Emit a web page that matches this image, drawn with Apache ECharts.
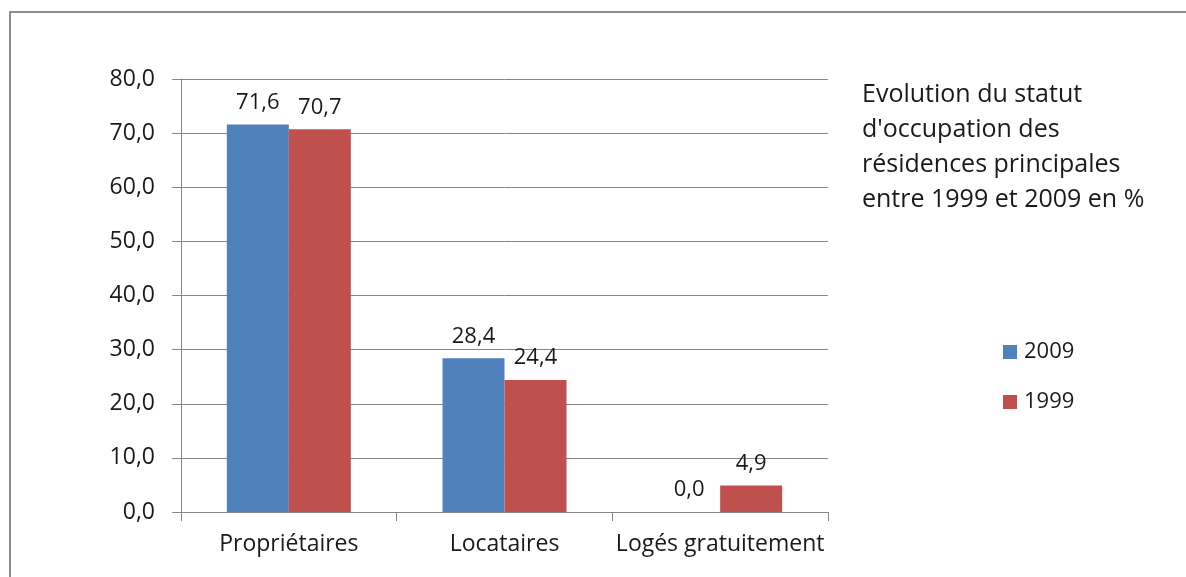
<!DOCTYPE html>
<html>
<head>
<meta charset="utf-8">
<script src="https://cdn.jsdelivr.net/npm/echarts@6/dist/echarts.min.js"></script>
<style>
html,body{margin:0;padding:0;background:#fff;}
#c{width:1186px;height:577px;}
</style>
</head>
<body>
<div id="c"></div>
<script>
const categories = ['Propriétaires', 'Locataires', 'Logés gratuitement'];
const seriesNames = ['2009', '1999'];
const values2009 = [71.6, 28.4, 0.0];
const values1999 = [70.7, 24.4, 4.9];
const titleText = "Evolution du statut\nd'occupation des\nrésidences principales\nentre 1999 et 2009 en %";

const FONT = 'Open Sans';
const fmt = v => Number(v).toFixed(1).replace('.', ',');

const chart = echarts.init(document.getElementById('c'));
chart.setOption({
  animation: false,
  backgroundColor: '#fff',
  textStyle: { fontFamily: FONT },
  title: {
    text: titleText,
    left: 862, top: 77, padding: 0,
    textStyle: { fontFamily: FONT, fontSize: 25, fontWeight: 'normal', color: '#1a1a1a', lineHeight: 35 }
  },
  legend: {
    orient: 'vertical',
    left: 1003, top: 339, padding: 0,
    itemWidth: 14, itemHeight: 14, itemGap: 24,
    icon: 'rect',
    textStyle: { fontFamily: FONT, fontSize: 22, color: '#1a1a1a', lineHeight: 26, padding: [0,0,0,2] },
    data: seriesNames
  },
  graphic: [{
    type: 'rect', silent: true,
    shape: { x: 10, y: 12, width: 1250, height: 650 },
    style: { fill: 'none', stroke: '#8c8c8c', lineWidth: 2 }
  }],
  grid: { left: 181, right: 358, top: 79, bottom: 65, containLabel: false },
  xAxis: {
    type: 'category',
    data: categories,
    axisLine: { lineStyle: { color: '#868686', width: 1 } },
    axisTick: { show: true, length: 9, lineStyle: { color: '#868686' } },
    axisLabel: { interval: 0, fontFamily: FONT, fontSize: 23, color: '#1a1a1a', margin: 21 }
  },
  yAxis: {
    type: 'value',
    min: 0, max: 80, interval: 10,
    axisLine: { show: true, lineStyle: { color: '#868686', width: 1 } },
    axisTick: { show: true, length: 9, lineStyle: { color: '#868686' } },
    axisLabel: { fontFamily: FONT, fontSize: 23, color: '#1a1a1a', margin: 26, formatter: v => fmt(v) },
    splitLine: { show: true, lineStyle: { color: '#868686', width: 1 } }
  },
  series: [
    {
      name: seriesNames[0], type: 'bar', data: values2009,
      barWidth: 62, barGap: '0%',
      itemStyle: { color: '#4f81bd' },
      label: { show: true, position: 'top', distance: 11, fontFamily: FONT, fontSize: 22, color: '#1a1a1a', formatter: p => fmt(p.value) }
    },
    {
      name: seriesNames[1], type: 'bar', data: values1999,
      barWidth: 62, barGap: '0%',
      itemStyle: { color: '#c0504d' },
      label: { show: true, position: 'top', distance: 11, fontFamily: FONT, fontSize: 22, color: '#1a1a1a', formatter: p => fmt(p.value) }
    }
  ]
});
</script>
</body>
</html>
